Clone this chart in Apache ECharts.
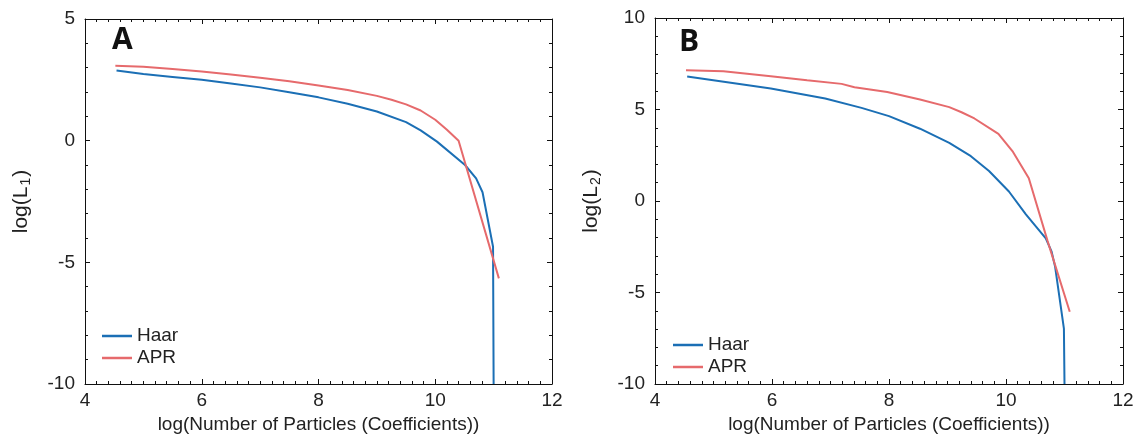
<!DOCTYPE html>
<html>
<head>
<meta charset="utf-8">
<script src="https://cdn.jsdelivr.net/npm/echarts@6/dist/echarts.min.js"></script>
<style>
html,body{margin:0;padding:0;background:#fff;}
#c{width:1142px;height:441px;}
</style>
</head>
<body>
<div id="c"></div>
<script>
// Panel A: log(L1)
const haarA_x = [4.54, 5.0, 5.5, 6.0, 6.5, 7.0, 7.5, 8.0, 8.5, 9.0, 9.5, 9.75, 10.03, 10.51, 10.70, 10.81, 10.99, 11.0];
const haarA_y = [2.88, 2.74, 2.62, 2.50, 2.35, 2.19, 1.99, 1.78, 1.52, 1.20, 0.76, 0.42, -0.04, -1.0, -1.55, -2.12, -4.36, -10];
const aprA_x = [4.52, 5.0, 5.5, 6.0, 6.5, 7.0, 7.5, 8.0, 8.5, 9.0, 9.25, 9.5, 9.75, 10.0, 10.2, 10.40, 11.09];
const aprA_y = [3.08, 3.04, 2.95, 2.84, 2.72, 2.59, 2.44, 2.27, 2.08, 1.84, 1.68, 1.49, 1.24, 0.86, 0.45, 0.0, -5.66];
// Panel B: log(L2)
const haarB_x = [4.55, 5.98, 6.91, 7.53, 8.0, 8.53, 9.03, 9.40, 9.71, 10.05, 10.34, 10.68, 10.78, 10.84, 10.99, 11.0];
const haarB_y = [6.80, 6.15, 5.60, 5.09, 4.64, 3.95, 3.18, 2.45, 1.64, 0.52, -0.73, -2.04, -2.77, -3.60, -6.98, -10];
const aprB_x = [4.53, 5.17, 5.98, 6.60, 7.19, 7.41, 7.97, 8.53, 9.03, 9.24, 9.46, 9.87, 10.12, 10.39, 10.71, 11.09];
const aprB_y = [7.15, 7.09, 6.82, 6.60, 6.40, 6.22, 5.96, 5.55, 5.13, 4.85, 4.51, 3.67, 2.68, 1.24, -2.18, -6.05];

const xTicks = [4, 6, 8, 10, 12];
const seriesNames = ['Haar', 'APR'];
const panelLetters = ['A', 'B'];
const xName = 'log(Number of Particles (Coefficients))';

const pairs = (xs, ys) => xs.map((x, i) => [x, ys[i]]);

const BLUE = '#1b6fb5';
const RED = '#e66a6c';
const FONT = 'Liberation Sans';

const chart = echarts.init(document.getElementById('c'), null, {renderer: 'canvas'});

function xAx(grid, pos, labels) {
  return {
    type: 'value', gridIndex: grid, position: pos, min: 4, max: 12, interval: 2,
    name: labels ? xName : '', nameLocation: 'middle', nameGap: 29,
    nameTextStyle: {fontFamily: FONT, fontSize: 19, color: '#222'},
    axisLine: {show: true, onZero: false, lineStyle: {color: '#111', width: 1}},
    axisTick: {show: true, inside: true, length: 5, lineStyle: {color: '#111'}},
    minorTick: {show: true, splitNumber: 10, length: 3, lineStyle: {color: '#111'}},
    axisLabel: {show: labels, fontFamily: FONT, fontSize: 19, color: '#222', margin: 7,
      formatter: v => xTicks.includes(v) ? String(v) : ''},
    splitLine: {show: false}, minorSplitLine: {show: false}
  };
}
function yAx(grid, pos, labels, min, max, nm) {
  return {
    type: 'value', gridIndex: grid, position: pos, min: min, max: max, interval: 5,
    name: labels ? nm : '', nameLocation: 'middle', nameGap: 52,
    nameTextStyle: {fontFamily: FONT, fontSize: 21, color: '#222',
      rich: {sub: {fontFamily: FONT, fontSize: 14, color: '#222', verticalAlign: 'bottom', padding: [10, 1, 0, 1]}}},
    axisLine: {show: true, onZero: false, lineStyle: {color: '#111', width: 1}},
    axisTick: {show: true, inside: true, length: 5, lineStyle: {color: '#111'}},
    minorTick: {show: true, splitNumber: 5, length: 3, lineStyle: {color: '#111'}},
    axisLabel: {show: labels, fontFamily: FONT, fontSize: 19, color: '#222', margin: 10},
    splitLine: {show: false}, minorSplitLine: {show: false}
  };
}

function line(name, data, xi, yi, color) {
  return {
    type: 'line', name: name, data: data, xAxisIndex: xi, yAxisIndex: yi,
    showSymbol: false, symbol: 'none', smooth: false, clip: true,
    lineStyle: {color: color, width: 2}, itemStyle: {color: color},
    emphasis: {disabled: true}, animation: false
  };
}

function legend(left, top) {
  return {
    data: seriesNames.map(n => ({name: n, icon: 'rect'})), orient: 'vertical', left: left, top: top,
    itemWidth: 30, itemHeight: 2.5, itemGap: 2, padding: 0,
    itemStyle: {borderWidth: 0},
    textStyle: {fontFamily: FONT, fontSize: 19, color: '#222', lineHeight: 20},
    selectedMode: false
  };
}

chart.setOption({
  backgroundColor: '#fff',
  animation: false,
  grid: [
    {left: 85, top: 19, width: 467, height: 365, show: false},
    {left: 655, top: 18, width: 468, height: 366, show: false}
  ],
  title: [
    {text: panelLetters[0], left: 112, top: 25, padding: 0,
      textStyle: {fontFamily: 'Open Sans', fontSize: 30, fontWeight: 'bold', color: '#111'}},
    {text: panelLetters[1], left: 679, top: 27, padding: 0,
      textStyle: {fontFamily: 'Open Sans', fontSize: 30, fontWeight: 'bold', color: '#111'}}
  ],
  legend: [legend(102, 326), legend(673, 335)],
  xAxis: [xAx(0, 'bottom', true), xAx(0, 'top', false), xAx(1, 'bottom', true), xAx(1, 'top', false)],
  yAxis: [
    yAx(0, 'left', true, -10, 5, 'log(L{sub|1})'), yAx(0, 'right', false, -10, 5, ''),
    yAx(1, 'left', true, -10, 10, 'log(L{sub|2})'), yAx(1, 'right', false, -10, 10, '')
  ],
  series: [
    line(seriesNames[0], pairs(haarA_x, haarA_y), 0, 0, BLUE),
    line(seriesNames[1], pairs(aprA_x, aprA_y), 0, 0, RED),
    line(seriesNames[0], pairs(haarB_x, haarB_y), 2, 2, BLUE),
    line(seriesNames[1], pairs(aprB_x, aprB_y), 2, 2, RED)
  ]
});
</script>
</body>
</html>
